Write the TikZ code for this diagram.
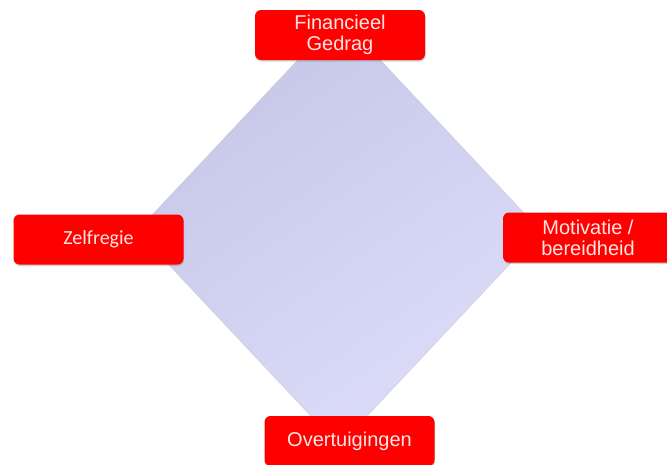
\documentclass[tikz,border=0pt]{standalone}
\usepackage{fontspec}
\setmainfont{Liberation Sans}
\newfontfamily\calibrifont{Carlito}
\usetikzlibrary{shapes.geometric,shadows}

\definecolor{ruitdonker}{RGB}{198,198,232}
\definecolor{ruitlicht}{RGB}{220,220,250}
\definecolor{blokrood}{RGB}{255,0,0}
\definecolor{bloktekst}{RGB}{255,228,228}

\begin{document}
\begin{tikzpicture}[x=1pt,y=-1pt,
                    blok/.style={rectangle,rounded corners=6pt,fill=blokrood,
                      text=bloktekst,minimum width=170pt,minimum height=50pt,
                      inner sep=0pt,align=center,
                      font=\fontsize{20}{21}\selectfont,
                      drop shadow={shadow xshift=0.6pt,shadow yshift=-1.6pt,opacity=0.35}},
                    ruit/.style={diamond,inner sep=0pt,minimum width=404pt,
                      minimum height=430pt,top color=ruitdonker,bottom color=ruitlicht,
                      shading angle=35,draw=black!25,very thin}]

  \useasboundingbox (0,0) rectangle (667,464);

  \node[ruit] (vlak) at (339,231) {};

  \node[blok] (fin)   at (340,35)    {Financieel\\Gedrag};
  \node[blok] (zelf)  at (98.5,239.5) {\calibrifont Zelfregie};
  \node[blok] (mot)   at (588,237.5) {Motivatie /\\bereidheid};
  \node[blok] (overt) at (349.5,441) {Overtuigingen};
\end{tikzpicture}
\end{document}
